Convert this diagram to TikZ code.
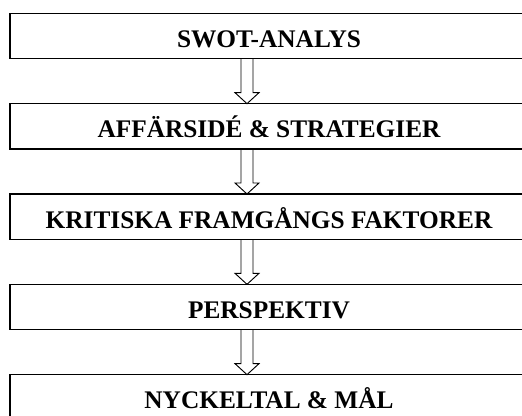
\documentclass[tikz,border=0pt]{standalone}
\usepackage{fontspec}
\setmainfont{Liberation Serif}
\usetikzlibrary{calc,positioning}

\begin{document}
\begin{tikzpicture}[x=0.75pt,y=-0.75pt,
       black, line join=miter,
       every node/.style={font=\fontsize{19}{22}\selectfont\bfseries},
       stage/.style={draw, line width=0.9pt, minimum width=388.5pt,
                     minimum height=34pt, inner sep=0pt, outer sep=0pt,
                     text height=17.1pt, text depth=0pt},
       flow/.style={line width=0.7pt}]

	%% Page frame (the boxes run off the right and bottom edge)
	\useasboundingbox (0,0) rectangle (522,415);
	\clip (0,0) rectangle (522,415);

	%% The five stages, top to bottom
	\node[stage] (swot) at (269,36) {SWOT-ANALYS};
	\node[stage, below=33.75pt of swot] (idea) {AFFÄRSIDÉ \& STRATEGIER};
	\node[stage, below=33.75pt of idea] (kff) {KRITISKA FRAMGÅNGS FAKTORER};
	\node[stage, below=33.75pt of kff] (persp) {PERSPEKTIV};
	\node[stage, below=33.75pt of persp] (kpi) {NYCKELTAL \& MÅL};

	%% Hollow arrows from one stage to the next
	\foreach \a/\b in {swot/idea,idea/kff,kff/persp,persp/kpi}
		\draw[flow] ($(\a.south)+(-28,0)$) -- ($(\b.north)+(-28,-11)$) -- ++(-6,0)
			-- ($(\b.north)+(-22,0)$) -- ++(12,-11) -- ++(-6,0)
			-- ($(\a.south)+(-16,0)$);
\end{tikzpicture}
\end{document}
